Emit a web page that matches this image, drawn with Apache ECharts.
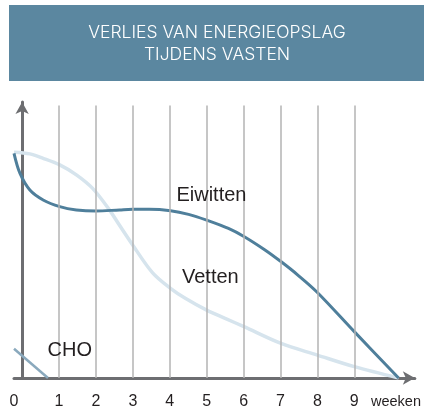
<!DOCTYPE html>
<html>
<head>
<meta charset="utf-8">
<script src="https://cdn.jsdelivr.net/npm/echarts@6/dist/echarts.min.js"></script>
<style>
html,body{margin:0;padding:0;background:#fff;}
#chart{width:424px;height:410px;}
</style>
</head>
<body>
<div id="chart"></div>
<script>
// ---- data (x in weeks, y in relative energy units) ----
var titleLines = ['VERLIES VAN ENERGIEOPSLAG', 'TIJDENS VASTEN'];
var weekTicks = [1, 2, 3, 4, 5, 6, 7, 8, 9];
var xStart = -0.22;           // position of the vertical axis (labelled "0")
var xUnitLabel = 'weeken';
var xUnitPos = 10.13;
var gridTop = 98.7;

var eiwittenX = [-0.22, -0.06, 0.21, 0.57, 1.02, 1.47, 2.0, 2.64, 3.0, 3.44, 4.02, 4.51, 5.0, 5.59, 6.02, 6.58, 7.02, 7.47, 8.0, 9.0, 10.2];
var eiwittenY = [81.4, 74.2, 68.1, 64.5, 62.1, 60.9, 60.5, 60.9, 61.1, 61.1, 60.6, 59.3, 57.2, 54.2, 51.2, 46.4, 42.1, 37.3, 31.0, 16.8, 0];

var vettenX = [-0.22, 0.21, 0.57, 1.02, 1.47, 1.91, 2.36, 2.63, 2.99, 3.53, 4.02, 4.42, 5.0, 5.5, 6.01, 7.0, 8.0, 9.0, 10.2];
var vettenY = [81.8, 81.2, 79.6, 77.2, 73.6, 68.7, 61.0, 55.5, 48.3, 38.2, 32.5, 28.9, 24.6, 21.6, 18.6, 12.6, 8.3, 4.1, 0];

var choX = [-0.22, 0.7];
var choY = [10.6, 0];

var labelNames = ['Eiwitten', 'Vetten', 'CHO'];
var labelX = [5.13, 5.1, 1.29];
var labelY = [66.3, 36.3, 10.1];

function pairs(xs, ys) { return xs.map(function (x, i) { return [x, ys[i]]; }); }

var chart = echarts.init(document.getElementById('chart'), null, {renderer: 'canvas'});

var gridLines = weekTicks.map(function (w) {
  return [{coord: [w, 0]}, {coord: [w, gridTop]}];
});

function textMark(i) {
  return {
    silent: true,
    symbol: 'circle',
    symbolSize: 0,
    data: [{
      coord: [labelX[i], labelY[i]],
      label: {
        show: true, position: 'inside', formatter: labelNames[i],
        color: '#231f20', fontSize: 20, fontFamily: 'Liberation Sans'
      }
    }]
  };
}

var option = {
  animation: false,
  graphic: [
    {type: 'rect', left: 9, top: 5, shape: {width: 415, height: 76}, style: {fill: '#5b87a0'}, z: 0},
    {type: 'text', x: 217, y: 44, z: 1, style: {
      text: titleLines.join('\n'), align: 'center', verticalAlign: 'middle',
      lineHeight: 22, fill: '#ffffff', fontSize: 17.5, fontFamily: 'Inter', fontWeight: 300
    }}
  ],
  grid: {left: 14, right: 6, top: 102, bottom: 32, containLabel: false},
  xAxis: {
    type: 'value', min: xStart, max: 10.64,
    axisLine: {show: true, lineStyle: {color: '#6d6e71', width: 3}, symbol: ['none', 'arrow'], symbolSize: [10, 12]},
    axisTick: {show: false},
    splitLine: {show: false},
    axisLabel: {
      show: true, margin: 16, color: '#231f20', fontSize: 16, fontFamily: 'Liberation Sans',
      customValues: [xStart].concat(weekTicks).concat([xUnitPos]),
      formatter: function (v) {
        if (Math.abs(v - xStart) < 1e-6) return '0';
        if (Math.abs(v - xUnitPos) < 1e-6) return '{u|' + xUnitLabel + '}';
        return String(Math.round(v));
      },
      rich: {u: {fontSize: 14.5, fontFamily: 'Liberation Sans', color: '#231f20'}}
    }
  },
  yAxis: {
    type: 'value', min: 0, max: 100,
    axisLine: {show: true, lineStyle: {color: '#6d6e71', width: 3}, symbol: ['none', 'arrow'], symbolSize: [10, 12]},
    axisTick: {show: false}, axisLabel: {show: false}, splitLine: {show: false}
  },
  series: [
    {
      name: 'grid', type: 'line', data: [], z: 1, silent: true,
      markLine: {silent: true, symbol: ['none', 'none'], label: {show: false},
        lineStyle: {color: '#b3b3b3', width: 1.5, type: 'solid'}, data: gridLines}
    },
    {
      name: 'Vetten', type: 'line', data: pairs(vettenX, vettenY), smooth: 0.33, showSymbol: false, z: 2,
      lineStyle: {color: '#d6e4ed', width: 3.5}, markPoint: textMark(1)
    },
    {
      name: 'Eiwitten', type: 'line', data: pairs(eiwittenX, eiwittenY), smooth: 0.33, showSymbol: false, z: 3,
      lineStyle: {color: '#4f7f9b', width: 3}, markPoint: textMark(0)
    },
    {
      name: 'CHO', type: 'line', data: pairs(choX, choY), smooth: false, showSymbol: false, z: 3,
      lineStyle: {color: '#8aa9bd', width: 2.5}, markPoint: textMark(2)
    }
  ]
};
chart.setOption(option);
</script>
</body>
</html>
